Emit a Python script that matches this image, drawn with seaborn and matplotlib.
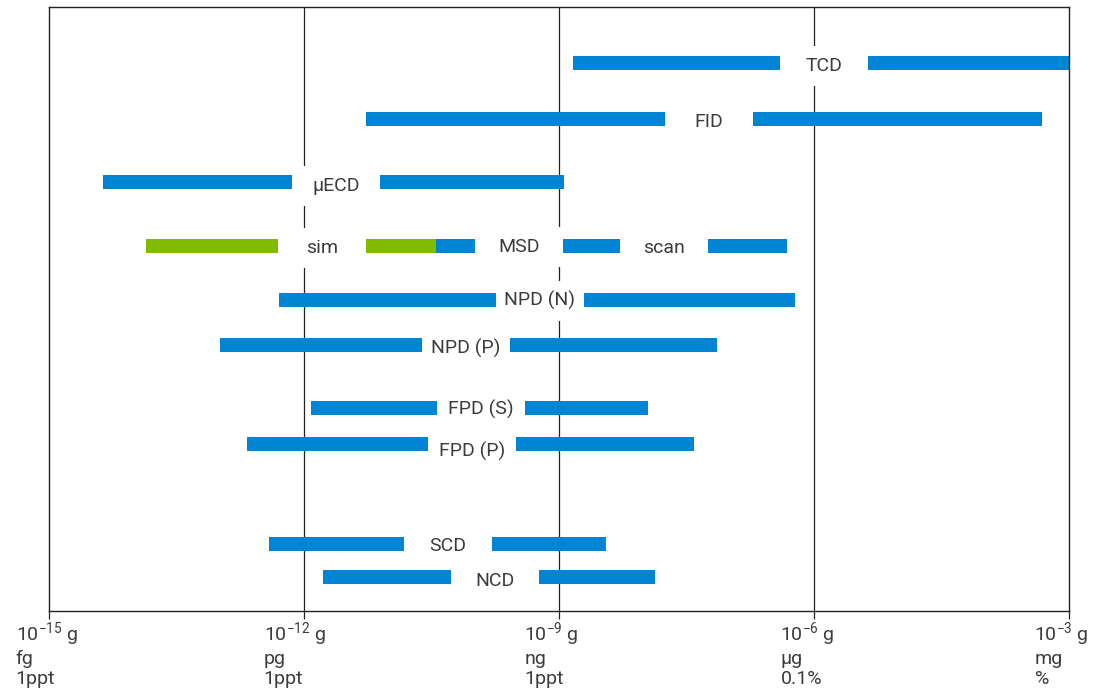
import numpy as np
import pandas as pd
import matplotlib
matplotlib.use("Agg")
import matplotlib.pyplot as plt
import matplotlib.transforms as mtransforms
from matplotlib.patches import Rectangle
import seaborn as sns

# Detection ranges of GC detectors, as log10(grams)
detectors = ["TCD", "FID", "µECD", "MSD", "NPD (N)", "NPD (P)",
             "FPD (S)", "FPD (P)", "SCD", "NCD"]
range_lo = [-8.83, -11.26, -14.36, -10.44, -12.29, -12.98, -11.91, -12.66, -12.41, -11.77]
range_hi = [-3.00, -3.31, -8.94, -6.31, -6.22, -7.14, -7.95, -7.41, -8.44, -7.86]
label_at = [-5.88, -7.23, -11.62, -9.46, -9.22, -10.09, -9.91, -10.02, -10.30, -9.75]

# MSD in selected-ion mode (sim) vs full scan
sim_lo, sim_hi, sim_label_at = -13.85, -10.44, -11.78
scan_label_at = -7.76

# Axis ticks (decades) and their three-line labels
tick_exp = [-15, -12, -9, -6, -3]
tick_units = ["fg", "pg", "ng", "µg", "mg"]
tick_conc = ["1ppt", "1ppt", "1ppt", "0.1%", "%"]

# Layout: vertical row positions (fraction of plot height, top = 0)
row_pos = [0.093, 0.185, 0.290, 0.396, 0.485, 0.560, 0.664, 0.724, 0.889, 0.944]
label_dy = [0.004, 0.005, 0.006, 0.001, 0.001, 0.005, 0.002, 0.012, 0.003, 0.006]
tick_dx_px = [-33, -40, -34, -33, -34]

BLUE = "#0085d4"
GREEN = "#80bb00"
TEXT = "#3c3c3c"
LINE = "#222222"
FS = 14

sns.set_theme(style="white")
plt.rcParams["font.family"] = ["Roboto", "DejaVu Sans"]
plt.rcParams["mathtext.fontset"] = "custom"
plt.rcParams["mathtext.rm"] = "Roboto"

fig = plt.figure(figsize=(10.97, 6.91), dpi=100)
ax = fig.add_axes([48.5 / 1097, 80 / 691, 1020 / 1097, 604 / 691])
ax.set_xscale("log")

# Long-form table of bar segments
rows = []
for i, det in enumerate(detectors):
    if det == "MSD":
        rows += [dict(seg="MSD sim", x=10.0 ** sim_lo, y=row_pos[i], kind="sim"),
                 dict(seg="MSD sim", x=10.0 ** sim_hi, y=row_pos[i], kind="sim")]
    rows += [dict(seg=det, x=10.0 ** range_lo[i], y=row_pos[i], kind="range"),
             dict(seg=det, x=10.0 ** range_hi[i], y=row_pos[i], kind="range")]
bars = pd.DataFrame(rows)

# decade gridlines
for e in tick_exp[1:-1]:
    ax.axvline(10.0 ** e, color=LINE, lw=0.9, zorder=1)

sns.lineplot(data=bars, x="x", y="y", units="seg", estimator=None, sort=False,
             hue="kind", palette={"range": BLUE, "sim": GREEN},
             linewidth=14 * 72 / 100, solid_capstyle="butt", legend=False,
             ax=ax, zorder=2)

# labels sitting on white boxes that cut the bars
half_w = 44 / 85.0  # box half-width in decades
box_h = 40 / 604
labels = []
for i, det in enumerate(detectors):
    labels.append((det, label_at[i], row_pos[i], label_dy[i]))
    if det == "MSD":
        labels.append(("sim", sim_label_at, row_pos[i], 0.003))
        labels.append(("scan", scan_label_at, row_pos[i], 0.003))
for txt, c, y, dy in labels:
    ax.add_patch(Rectangle((10.0 ** (c - half_w), y + dy - box_h / 2),
                           10.0 ** (c + half_w) - 10.0 ** (c - half_w), box_h,
                           facecolor="white", edgecolor="none", zorder=3))
    ax.text(10.0 ** c, y + dy, txt, ha="center", va="center", fontsize=FS,
            color=TEXT, zorder=4)

ax.set_xlim(1e-15, 1e-3)
ax.set_ylim(1, 0)
ax.set_xlabel("")
ax.set_ylabel("")
ax.set_yticks([])
ax.set_xticks([10.0 ** e for e in tick_exp])
ax.set_xticklabels([])
ax.xaxis.set_minor_locator(matplotlib.ticker.NullLocator())
ax.tick_params(axis="x", which="major", direction="out", length=6, width=0.9,
               color=LINE, bottom=True)
for sp in ax.spines.values():
    sp.set_color(LINE)
    sp.set_linewidth(1.0)
    sp.set_visible(True)

trans = mtransforms.blended_transform_factory(ax.transData, ax.transAxes)
for e, u, cst, dx in zip(tick_exp, tick_units, tick_conc, tick_dx_px):
    off = mtransforms.ScaledTranslation(dx / 100, -9 / 100, fig.dpi_scale_trans)
    ax.text(10.0 ** e, 0, r"$\mathregular{10^{%d}}$ g" % e + "\n" + u + "\n" + cst,
            transform=trans + off, ha="left", va="top", fontsize=FS,
            color=TEXT, linespacing=1.15, clip_on=False)

fig.savefig("out.png", dpi=100, facecolor="white")
